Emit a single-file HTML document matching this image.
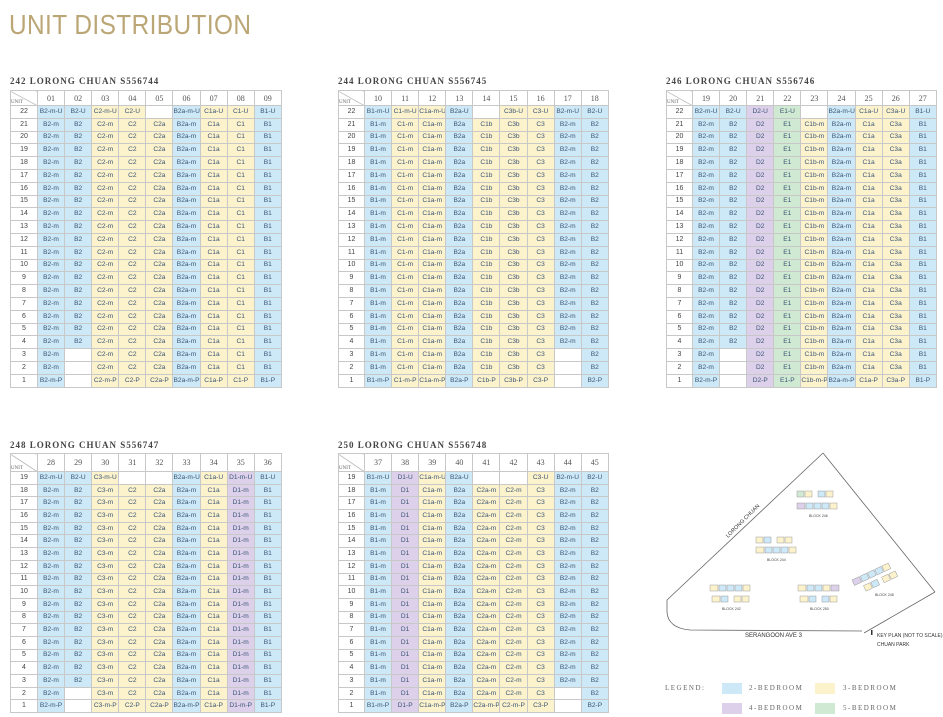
<!DOCTYPE html>
<html><head><meta charset="utf-8"><style>
body{margin:0;width:943px;height:717px;background:#fff;position:relative;overflow:hidden;font-family:"Liberation Sans",sans-serif}
.title{position:absolute;left:9px;top:9px;font:28px "Liberation Sans",sans-serif;color:#bba675;letter-spacing:0.5px;transform:scaleX(0.87);transform-origin:0 0;white-space:nowrap}
.h{position:absolute;font:bold 9px "Liberation Serif",serif;color:#444;letter-spacing:1px}
table{position:absolute;border-collapse:collapse;table-layout:fixed;font:6.6px "Liberation Sans",sans-serif;color:#3b5676}
td{border:1px solid #c8c8c8;text-align:center;padding:0;white-space:nowrap;overflow:hidden;line-height:10px}
tr.hd td{font:8px "Liberation Serif",serif;color:#555}
tr td:first-child{color:#444;font-size:7px}
td.u{background:linear-gradient(to bottom left,transparent 49%,#aaa 50%,transparent 54%);font-size:5px!important;text-align:left;vertical-align:bottom;color:#666!important}
.b{background:#cde8f6}.y{background:#fcf2cc}.p{background:#ddd0ea}.g{background:#d0e9d2}
.t22 tr{height:12.8px}.t22 tr.hd{height:15px}
.t19 tr{height:12.7px}.t19 tr.hd{height:18px}
.lg{position:absolute;font:7px "Liberation Serif",serif;color:#666;letter-spacing:1.5px}
.sw{position:absolute;width:20px;height:11px}
</style></head><body>
<div class="title">UNIT DISTRIBUTION</div>

<div class="h" style="left:10px;top:76px">242 LORONG CHUAN S556744</div>
<table class="t22" style="left:10px;top:90px;width:271px">
<colgroup><col style="width:27px"><col span="9" style="width:27.1px"></colgroup>
<tr class="hd"><td class="u">UNIT<td>01<td>02<td>03<td>04<td>05<td>06<td>07<td>08<td>09
<tr><td>22<td class=b>B2-m-U<td class=b>B2-U<td class=y>C2-m-U<td class=y>C2-U<td><td class=b>B2a-m-U<td class=y>C1a-U<td class=y>C1-U<td class=b>B1-U
<tr><td>21<td class=b>B2-m<td class=b>B2<td class=y>C2-m<td class=y>C2<td class=y>C2a<td class=b>B2a-m<td class=y>C1a<td class=y>C1<td class=b>B1
<tr><td>20<td class=b>B2-m<td class=b>B2<td class=y>C2-m<td class=y>C2<td class=y>C2a<td class=b>B2a-m<td class=y>C1a<td class=y>C1<td class=b>B1
<tr><td>19<td class=b>B2-m<td class=b>B2<td class=y>C2-m<td class=y>C2<td class=y>C2a<td class=b>B2a-m<td class=y>C1a<td class=y>C1<td class=b>B1
<tr><td>18<td class=b>B2-m<td class=b>B2<td class=y>C2-m<td class=y>C2<td class=y>C2a<td class=b>B2a-m<td class=y>C1a<td class=y>C1<td class=b>B1
<tr><td>17<td class=b>B2-m<td class=b>B2<td class=y>C2-m<td class=y>C2<td class=y>C2a<td class=b>B2a-m<td class=y>C1a<td class=y>C1<td class=b>B1
<tr><td>16<td class=b>B2-m<td class=b>B2<td class=y>C2-m<td class=y>C2<td class=y>C2a<td class=b>B2a-m<td class=y>C1a<td class=y>C1<td class=b>B1
<tr><td>15<td class=b>B2-m<td class=b>B2<td class=y>C2-m<td class=y>C2<td class=y>C2a<td class=b>B2a-m<td class=y>C1a<td class=y>C1<td class=b>B1
<tr><td>14<td class=b>B2-m<td class=b>B2<td class=y>C2-m<td class=y>C2<td class=y>C2a<td class=b>B2a-m<td class=y>C1a<td class=y>C1<td class=b>B1
<tr><td>13<td class=b>B2-m<td class=b>B2<td class=y>C2-m<td class=y>C2<td class=y>C2a<td class=b>B2a-m<td class=y>C1a<td class=y>C1<td class=b>B1
<tr><td>12<td class=b>B2-m<td class=b>B2<td class=y>C2-m<td class=y>C2<td class=y>C2a<td class=b>B2a-m<td class=y>C1a<td class=y>C1<td class=b>B1
<tr><td>11<td class=b>B2-m<td class=b>B2<td class=y>C2-m<td class=y>C2<td class=y>C2a<td class=b>B2a-m<td class=y>C1a<td class=y>C1<td class=b>B1
<tr><td>10<td class=b>B2-m<td class=b>B2<td class=y>C2-m<td class=y>C2<td class=y>C2a<td class=b>B2a-m<td class=y>C1a<td class=y>C1<td class=b>B1
<tr><td>9<td class=b>B2-m<td class=b>B2<td class=y>C2-m<td class=y>C2<td class=y>C2a<td class=b>B2a-m<td class=y>C1a<td class=y>C1<td class=b>B1
<tr><td>8<td class=b>B2-m<td class=b>B2<td class=y>C2-m<td class=y>C2<td class=y>C2a<td class=b>B2a-m<td class=y>C1a<td class=y>C1<td class=b>B1
<tr><td>7<td class=b>B2-m<td class=b>B2<td class=y>C2-m<td class=y>C2<td class=y>C2a<td class=b>B2a-m<td class=y>C1a<td class=y>C1<td class=b>B1
<tr><td>6<td class=b>B2-m<td class=b>B2<td class=y>C2-m<td class=y>C2<td class=y>C2a<td class=b>B2a-m<td class=y>C1a<td class=y>C1<td class=b>B1
<tr><td>5<td class=b>B2-m<td class=b>B2<td class=y>C2-m<td class=y>C2<td class=y>C2a<td class=b>B2a-m<td class=y>C1a<td class=y>C1<td class=b>B1
<tr><td>4<td class=b>B2-m<td class=b>B2<td class=y>C2-m<td class=y>C2<td class=y>C2a<td class=b>B2a-m<td class=y>C1a<td class=y>C1<td class=b>B1
<tr><td>3<td class=b>B2-m<td><td class=y>C2-m<td class=y>C2<td class=y>C2a<td class=b>B2a-m<td class=y>C1a<td class=y>C1<td class=b>B1
<tr><td>2<td class=b>B2-m<td><td class=y>C2-m<td class=y>C2<td class=y>C2a<td class=b>B2a-m<td class=y>C1a<td class=y>C1<td class=b>B1
<tr><td>1<td class=b>B2-m-P<td><td class=y>C2-m-P<td class=y>C2-P<td class=y>C2a-P<td class=b>B2a-m-P<td class=y>C1a-P<td class=y>C1-P<td class=b>B1-P
</table>

<div class="h" style="left:338px;top:76px">244 LORONG CHUAN S556745</div>
<table class="t22" style="left:338px;top:90px;width:270px">
<colgroup><col style="width:26px"><col span="9" style="width:27.1px"></colgroup>
<tr class="hd"><td class="u">UNIT<td>10<td>11<td>12<td>13<td>14<td>15<td>16<td>17<td>18
<tr><td>22<td class=b>B1-m-U<td class=y>C1-m-U<td class=y>C1a-m-U<td class=b>B2a-U<td><td class=y>C3b-U<td class=y>C3-U<td class=b>B2-m-U<td class=b>B2-U
<tr><td>21<td class=b>B1-m<td class=y>C1-m<td class=y>C1a-m<td class=b>B2a<td class=y>C1b<td class=y>C3b<td class=y>C3<td class=b>B2-m<td class=b>B2
<tr><td>20<td class=b>B1-m<td class=y>C1-m<td class=y>C1a-m<td class=b>B2a<td class=y>C1b<td class=y>C3b<td class=y>C3<td class=b>B2-m<td class=b>B2
<tr><td>19<td class=b>B1-m<td class=y>C1-m<td class=y>C1a-m<td class=b>B2a<td class=y>C1b<td class=y>C3b<td class=y>C3<td class=b>B2-m<td class=b>B2
<tr><td>18<td class=b>B1-m<td class=y>C1-m<td class=y>C1a-m<td class=b>B2a<td class=y>C1b<td class=y>C3b<td class=y>C3<td class=b>B2-m<td class=b>B2
<tr><td>17<td class=b>B1-m<td class=y>C1-m<td class=y>C1a-m<td class=b>B2a<td class=y>C1b<td class=y>C3b<td class=y>C3<td class=b>B2-m<td class=b>B2
<tr><td>16<td class=b>B1-m<td class=y>C1-m<td class=y>C1a-m<td class=b>B2a<td class=y>C1b<td class=y>C3b<td class=y>C3<td class=b>B2-m<td class=b>B2
<tr><td>15<td class=b>B1-m<td class=y>C1-m<td class=y>C1a-m<td class=b>B2a<td class=y>C1b<td class=y>C3b<td class=y>C3<td class=b>B2-m<td class=b>B2
<tr><td>14<td class=b>B1-m<td class=y>C1-m<td class=y>C1a-m<td class=b>B2a<td class=y>C1b<td class=y>C3b<td class=y>C3<td class=b>B2-m<td class=b>B2
<tr><td>13<td class=b>B1-m<td class=y>C1-m<td class=y>C1a-m<td class=b>B2a<td class=y>C1b<td class=y>C3b<td class=y>C3<td class=b>B2-m<td class=b>B2
<tr><td>12<td class=b>B1-m<td class=y>C1-m<td class=y>C1a-m<td class=b>B2a<td class=y>C1b<td class=y>C3b<td class=y>C3<td class=b>B2-m<td class=b>B2
<tr><td>11<td class=b>B1-m<td class=y>C1-m<td class=y>C1a-m<td class=b>B2a<td class=y>C1b<td class=y>C3b<td class=y>C3<td class=b>B2-m<td class=b>B2
<tr><td>10<td class=b>B1-m<td class=y>C1-m<td class=y>C1a-m<td class=b>B2a<td class=y>C1b<td class=y>C3b<td class=y>C3<td class=b>B2-m<td class=b>B2
<tr><td>9<td class=b>B1-m<td class=y>C1-m<td class=y>C1a-m<td class=b>B2a<td class=y>C1b<td class=y>C3b<td class=y>C3<td class=b>B2-m<td class=b>B2
<tr><td>8<td class=b>B1-m<td class=y>C1-m<td class=y>C1a-m<td class=b>B2a<td class=y>C1b<td class=y>C3b<td class=y>C3<td class=b>B2-m<td class=b>B2
<tr><td>7<td class=b>B1-m<td class=y>C1-m<td class=y>C1a-m<td class=b>B2a<td class=y>C1b<td class=y>C3b<td class=y>C3<td class=b>B2-m<td class=b>B2
<tr><td>6<td class=b>B1-m<td class=y>C1-m<td class=y>C1a-m<td class=b>B2a<td class=y>C1b<td class=y>C3b<td class=y>C3<td class=b>B2-m<td class=b>B2
<tr><td>5<td class=b>B1-m<td class=y>C1-m<td class=y>C1a-m<td class=b>B2a<td class=y>C1b<td class=y>C3b<td class=y>C3<td class=b>B2-m<td class=b>B2
<tr><td>4<td class=b>B1-m<td class=y>C1-m<td class=y>C1a-m<td class=b>B2a<td class=y>C1b<td class=y>C3b<td class=y>C3<td class=b>B2-m<td class=b>B2
<tr><td>3<td class=b>B1-m<td class=y>C1-m<td class=y>C1a-m<td class=b>B2a<td class=y>C1b<td class=y>C3b<td class=y>C3<td><td class=b>B2
<tr><td>2<td class=b>B1-m<td class=y>C1-m<td class=y>C1a-m<td class=b>B2a<td class=y>C1b<td class=y>C3b<td class=y>C3<td><td class=b>B2
<tr><td>1<td class=b>B1-m-P<td class=y>C1-m-P<td class=y>C1a-m-P<td class=b>B2a-P<td class=y>C1b-P<td class=y>C3b-P<td class=y>C3-P<td><td class=b>B2-P
</table>

<div class="h" style="left:666px;top:76px">246 LORONG CHUAN S556746</div>
<table class="t22" style="left:666px;top:90px;width:270px">
<colgroup><col style="width:26px"><col span="9" style="width:27.1px"></colgroup>
<tr class="hd"><td class="u">UNIT<td>19<td>20<td>21<td>22<td>23<td>24<td>25<td>26<td>27
<tr><td>22<td class=b>B2-m-U<td class=b>B2-U<td class=p>D2-U<td class=g>E1-U<td><td class=b>B2a-m-U<td class=y>C1a-U<td class=y>C3a-U<td class=b>B1-U
<tr><td>21<td class=b>B2-m<td class=b>B2<td class=p>D2<td class=g>E1<td class=y>C1b-m<td class=b>B2a-m<td class=y>C1a<td class=y>C3a<td class=b>B1
<tr><td>20<td class=b>B2-m<td class=b>B2<td class=p>D2<td class=g>E1<td class=y>C1b-m<td class=b>B2a-m<td class=y>C1a<td class=y>C3a<td class=b>B1
<tr><td>19<td class=b>B2-m<td class=b>B2<td class=p>D2<td class=g>E1<td class=y>C1b-m<td class=b>B2a-m<td class=y>C1a<td class=y>C3a<td class=b>B1
<tr><td>18<td class=b>B2-m<td class=b>B2<td class=p>D2<td class=g>E1<td class=y>C1b-m<td class=b>B2a-m<td class=y>C1a<td class=y>C3a<td class=b>B1
<tr><td>17<td class=b>B2-m<td class=b>B2<td class=p>D2<td class=g>E1<td class=y>C1b-m<td class=b>B2a-m<td class=y>C1a<td class=y>C3a<td class=b>B1
<tr><td>16<td class=b>B2-m<td class=b>B2<td class=p>D2<td class=g>E1<td class=y>C1b-m<td class=b>B2a-m<td class=y>C1a<td class=y>C3a<td class=b>B1
<tr><td>15<td class=b>B2-m<td class=b>B2<td class=p>D2<td class=g>E1<td class=y>C1b-m<td class=b>B2a-m<td class=y>C1a<td class=y>C3a<td class=b>B1
<tr><td>14<td class=b>B2-m<td class=b>B2<td class=p>D2<td class=g>E1<td class=y>C1b-m<td class=b>B2a-m<td class=y>C1a<td class=y>C3a<td class=b>B1
<tr><td>13<td class=b>B2-m<td class=b>B2<td class=p>D2<td class=g>E1<td class=y>C1b-m<td class=b>B2a-m<td class=y>C1a<td class=y>C3a<td class=b>B1
<tr><td>12<td class=b>B2-m<td class=b>B2<td class=p>D2<td class=g>E1<td class=y>C1b-m<td class=b>B2a-m<td class=y>C1a<td class=y>C3a<td class=b>B1
<tr><td>11<td class=b>B2-m<td class=b>B2<td class=p>D2<td class=g>E1<td class=y>C1b-m<td class=b>B2a-m<td class=y>C1a<td class=y>C3a<td class=b>B1
<tr><td>10<td class=b>B2-m<td class=b>B2<td class=p>D2<td class=g>E1<td class=y>C1b-m<td class=b>B2a-m<td class=y>C1a<td class=y>C3a<td class=b>B1
<tr><td>9<td class=b>B2-m<td class=b>B2<td class=p>D2<td class=g>E1<td class=y>C1b-m<td class=b>B2a-m<td class=y>C1a<td class=y>C3a<td class=b>B1
<tr><td>8<td class=b>B2-m<td class=b>B2<td class=p>D2<td class=g>E1<td class=y>C1b-m<td class=b>B2a-m<td class=y>C1a<td class=y>C3a<td class=b>B1
<tr><td>7<td class=b>B2-m<td class=b>B2<td class=p>D2<td class=g>E1<td class=y>C1b-m<td class=b>B2a-m<td class=y>C1a<td class=y>C3a<td class=b>B1
<tr><td>6<td class=b>B2-m<td class=b>B2<td class=p>D2<td class=g>E1<td class=y>C1b-m<td class=b>B2a-m<td class=y>C1a<td class=y>C3a<td class=b>B1
<tr><td>5<td class=b>B2-m<td class=b>B2<td class=p>D2<td class=g>E1<td class=y>C1b-m<td class=b>B2a-m<td class=y>C1a<td class=y>C3a<td class=b>B1
<tr><td>4<td class=b>B2-m<td class=b>B2<td class=p>D2<td class=g>E1<td class=y>C1b-m<td class=b>B2a-m<td class=y>C1a<td class=y>C3a<td class=b>B1
<tr><td>3<td class=b>B2-m<td><td class=p>D2<td class=g>E1<td class=y>C1b-m<td class=b>B2a-m<td class=y>C1a<td class=y>C3a<td class=b>B1
<tr><td>2<td class=b>B2-m<td><td class=p>D2<td class=g>E1<td class=y>C1b-m<td class=b>B2a-m<td class=y>C1a<td class=y>C3a<td class=b>B1
<tr><td>1<td class=b>B2-m-P<td><td class=p>D2-P<td class=g>E1-P<td class=y>C1b-m-P<td class=b>B2a-m-P<td class=y>C1a-P<td class=y>C3a-P<td class=b>B1-P
</table>

<div class="h" style="left:10px;top:440px">248 LORONG CHUAN S556747</div>
<table class="t19" style="left:10px;top:453px;width:271px">
<colgroup><col style="width:27px"><col span="9" style="width:27.1px"></colgroup>
<tr class="hd"><td class="u">UNIT<td>28<td>29<td>30<td>31<td>32<td>33<td>34<td>35<td>36
<tr><td>19<td class=b>B2-m-U<td class=b>B2-U<td class=y>C3-m-U<td><td><td class=b>B2a-m-U<td class=y>C1a-U<td class=p>D1-m-U<td class=b>B1-U
<tr><td>18<td class=b>B2-m<td class=b>B2<td class=y>C3-m<td class=y>C2<td class=y>C2a<td class=b>B2a-m<td class=y>C1a<td class=p>D1-m<td class=b>B1
<tr><td>17<td class=b>B2-m<td class=b>B2<td class=y>C3-m<td class=y>C2<td class=y>C2a<td class=b>B2a-m<td class=y>C1a<td class=p>D1-m<td class=b>B1
<tr><td>16<td class=b>B2-m<td class=b>B2<td class=y>C3-m<td class=y>C2<td class=y>C2a<td class=b>B2a-m<td class=y>C1a<td class=p>D1-m<td class=b>B1
<tr><td>15<td class=b>B2-m<td class=b>B2<td class=y>C3-m<td class=y>C2<td class=y>C2a<td class=b>B2a-m<td class=y>C1a<td class=p>D1-m<td class=b>B1
<tr><td>14<td class=b>B2-m<td class=b>B2<td class=y>C3-m<td class=y>C2<td class=y>C2a<td class=b>B2a-m<td class=y>C1a<td class=p>D1-m<td class=b>B1
<tr><td>13<td class=b>B2-m<td class=b>B2<td class=y>C3-m<td class=y>C2<td class=y>C2a<td class=b>B2a-m<td class=y>C1a<td class=p>D1-m<td class=b>B1
<tr><td>12<td class=b>B2-m<td class=b>B2<td class=y>C3-m<td class=y>C2<td class=y>C2a<td class=b>B2a-m<td class=y>C1a<td class=p>D1-m<td class=b>B1
<tr><td>11<td class=b>B2-m<td class=b>B2<td class=y>C3-m<td class=y>C2<td class=y>C2a<td class=b>B2a-m<td class=y>C1a<td class=p>D1-m<td class=b>B1
<tr><td>10<td class=b>B2-m<td class=b>B2<td class=y>C3-m<td class=y>C2<td class=y>C2a<td class=b>B2a-m<td class=y>C1a<td class=p>D1-m<td class=b>B1
<tr><td>9<td class=b>B2-m<td class=b>B2<td class=y>C3-m<td class=y>C2<td class=y>C2a<td class=b>B2a-m<td class=y>C1a<td class=p>D1-m<td class=b>B1
<tr><td>8<td class=b>B2-m<td class=b>B2<td class=y>C3-m<td class=y>C2<td class=y>C2a<td class=b>B2a-m<td class=y>C1a<td class=p>D1-m<td class=b>B1
<tr><td>7<td class=b>B2-m<td class=b>B2<td class=y>C3-m<td class=y>C2<td class=y>C2a<td class=b>B2a-m<td class=y>C1a<td class=p>D1-m<td class=b>B1
<tr><td>6<td class=b>B2-m<td class=b>B2<td class=y>C3-m<td class=y>C2<td class=y>C2a<td class=b>B2a-m<td class=y>C1a<td class=p>D1-m<td class=b>B1
<tr><td>5<td class=b>B2-m<td class=b>B2<td class=y>C3-m<td class=y>C2<td class=y>C2a<td class=b>B2a-m<td class=y>C1a<td class=p>D1-m<td class=b>B1
<tr><td>4<td class=b>B2-m<td class=b>B2<td class=y>C3-m<td class=y>C2<td class=y>C2a<td class=b>B2a-m<td class=y>C1a<td class=p>D1-m<td class=b>B1
<tr><td>3<td class=b>B2-m<td class=b>B2<td class=y>C3-m<td class=y>C2<td class=y>C2a<td class=b>B2a-m<td class=y>C1a<td class=p>D1-m<td class=b>B1
<tr><td>2<td class=b>B2-m<td><td class=y>C3-m<td class=y>C2<td class=y>C2a<td class=b>B2a-m<td class=y>C1a<td class=p>D1-m<td class=b>B1
<tr><td>1<td class=b>B2-m-P<td><td class=y>C3-m-P<td class=y>C2-P<td class=y>C2a-P<td class=b>B2a-m-P<td class=y>C1a-P<td class=p>D1-m-P<td class=b>B1-P
</table>

<div class="h" style="left:338px;top:440px">250 LORONG CHUAN S556748</div>
<table class="t19" style="left:338px;top:453px;width:270px">
<colgroup><col style="width:26px"><col span="9" style="width:27.1px"></colgroup>
<tr class="hd"><td class="u">UNIT<td>37<td>38<td>39<td>40<td>41<td>42<td>43<td>44<td>45
<tr><td>19<td class=b>B1-m-U<td class=p>D1-U<td class=y>C1a-m-U<td class=b>B2a-U<td><td><td class=y>C3-U<td class=b>B2-m-U<td class=b>B2-U
<tr><td>18<td class=b>B1-m<td class=p>D1<td class=y>C1a-m<td class=b>B2a<td class=y>C2a-m<td class=y>C2-m<td class=y>C3<td class=b>B2-m<td class=b>B2
<tr><td>17<td class=b>B1-m<td class=p>D1<td class=y>C1a-m<td class=b>B2a<td class=y>C2a-m<td class=y>C2-m<td class=y>C3<td class=b>B2-m<td class=b>B2
<tr><td>16<td class=b>B1-m<td class=p>D1<td class=y>C1a-m<td class=b>B2a<td class=y>C2a-m<td class=y>C2-m<td class=y>C3<td class=b>B2-m<td class=b>B2
<tr><td>15<td class=b>B1-m<td class=p>D1<td class=y>C1a-m<td class=b>B2a<td class=y>C2a-m<td class=y>C2-m<td class=y>C3<td class=b>B2-m<td class=b>B2
<tr><td>14<td class=b>B1-m<td class=p>D1<td class=y>C1a-m<td class=b>B2a<td class=y>C2a-m<td class=y>C2-m<td class=y>C3<td class=b>B2-m<td class=b>B2
<tr><td>13<td class=b>B1-m<td class=p>D1<td class=y>C1a-m<td class=b>B2a<td class=y>C2a-m<td class=y>C2-m<td class=y>C3<td class=b>B2-m<td class=b>B2
<tr><td>12<td class=b>B1-m<td class=p>D1<td class=y>C1a-m<td class=b>B2a<td class=y>C2a-m<td class=y>C2-m<td class=y>C3<td class=b>B2-m<td class=b>B2
<tr><td>11<td class=b>B1-m<td class=p>D1<td class=y>C1a-m<td class=b>B2a<td class=y>C2a-m<td class=y>C2-m<td class=y>C3<td class=b>B2-m<td class=b>B2
<tr><td>10<td class=b>B1-m<td class=p>D1<td class=y>C1a-m<td class=b>B2a<td class=y>C2a-m<td class=y>C2-m<td class=y>C3<td class=b>B2-m<td class=b>B2
<tr><td>9<td class=b>B1-m<td class=p>D1<td class=y>C1a-m<td class=b>B2a<td class=y>C2a-m<td class=y>C2-m<td class=y>C3<td class=b>B2-m<td class=b>B2
<tr><td>8<td class=b>B1-m<td class=p>D1<td class=y>C1a-m<td class=b>B2a<td class=y>C2a-m<td class=y>C2-m<td class=y>C3<td class=b>B2-m<td class=b>B2
<tr><td>7<td class=b>B1-m<td class=p>D1<td class=y>C1a-m<td class=b>B2a<td class=y>C2a-m<td class=y>C2-m<td class=y>C3<td class=b>B2-m<td class=b>B2
<tr><td>6<td class=b>B1-m<td class=p>D1<td class=y>C1a-m<td class=b>B2a<td class=y>C2a-m<td class=y>C2-m<td class=y>C3<td class=b>B2-m<td class=b>B2
<tr><td>5<td class=b>B1-m<td class=p>D1<td class=y>C1a-m<td class=b>B2a<td class=y>C2a-m<td class=y>C2-m<td class=y>C3<td class=b>B2-m<td class=b>B2
<tr><td>4<td class=b>B1-m<td class=p>D1<td class=y>C1a-m<td class=b>B2a<td class=y>C2a-m<td class=y>C2-m<td class=y>C3<td class=b>B2-m<td class=b>B2
<tr><td>3<td class=b>B1-m<td class=p>D1<td class=y>C1a-m<td class=b>B2a<td class=y>C2a-m<td class=y>C2-m<td class=y>C3<td class=b>B2-m<td class=b>B2
<tr><td>2<td class=b>B1-m<td class=p>D1<td class=y>C1a-m<td class=b>B2a<td class=y>C2a-m<td class=y>C2-m<td class=y>C3<td><td class=b>B2
<tr><td>1<td class=b>B1-m-P<td class=p>D1-P<td class=y>C1a-m-P<td class=b>B2a-P<td class=y>C2a-m-P<td class=y>C2-m-P<td class=y>C3-P<td><td class=b>B2-P
</table>

<svg style="position:absolute;left:0;top:0" width="943" height="717" font-family="Liberation Sans, sans-serif">
<path d="M823,453 L935,592 M864,633 L935,592 M823,453 L667,600 L667,612 Q668,628 690,630 L862,631" fill="none" stroke="#666" stroke-width="0.8"/>
<text x="0" y="0" font-size="5.5" fill="#333" transform="translate(728,538) rotate(-45)">LORONG CHUAN</text>
<text x="745" y="637" font-size="6" fill="#333">SERANGOON AVE 3</text>
<rect x="871" y="630" width="1.5" height="5" fill="#333"/>
<text x="877" y="637" font-size="5" fill="#333">KEY PLAN (NOT TO SCALE)</text>
<text x="877" y="646" font-size="5" fill="#333">CHUAN PARK</text>
<g stroke="#888" stroke-width="0.4">
<rect x="797" y="491" width="7" height="6" fill="#d0e9d2"/><rect x="805" y="491" width="7" height="6" fill="#fcf2cc"/><rect x="818" y="491" width="7" height="6" fill="#cde8f6"/><rect x="826" y="491" width="7" height="6" fill="#fcf2cc"/>
<rect x="797" y="503" width="8" height="6" fill="#ddd0ea"/><rect x="806" y="503" width="7" height="6" fill="#cde8f6"/><rect x="814" y="503" width="7" height="6" fill="#cde8f6"/><rect x="822" y="503" width="7" height="6" fill="#cde8f6"/><rect x="830" y="503" width="7" height="6" fill="#fcf2cc"/>
<rect x="756" y="537" width="7" height="6" fill="#fcf2cc"/><rect x="764" y="537" width="7" height="6" fill="#cde8f6"/><rect x="777" y="537" width="7" height="6" fill="#fcf2cc"/><rect x="785" y="537" width="7" height="6" fill="#fcf2cc"/>
<rect x="756" y="547" width="8" height="6" fill="#fcf2cc"/><rect x="765" y="547" width="7" height="6" fill="#cde8f6"/><rect x="773" y="547" width="7" height="6" fill="#cde8f6"/><rect x="781" y="547" width="7" height="6" fill="#cde8f6"/><rect x="789" y="547" width="7" height="6" fill="#fcf2cc"/>
<rect x="710" y="585" width="8" height="6" fill="#fcf2cc"/><rect x="719" y="585" width="7" height="6" fill="#cde8f6"/><rect x="727" y="585" width="7" height="6" fill="#cde8f6"/><rect x="735" y="585" width="7" height="6" fill="#cde8f6"/><rect x="743" y="585" width="7" height="6" fill="#fcf2cc"/>
<rect x="712" y="596" width="8" height="6" fill="#fcf2cc"/><rect x="721" y="596" width="7" height="6" fill="#cde8f6"/><rect x="734" y="596" width="7" height="6" fill="#fcf2cc"/><rect x="742" y="596" width="7" height="6" fill="#fcf2cc"/>
<rect x="798" y="585" width="8" height="6" fill="#fcf2cc"/><rect x="807" y="585" width="7" height="6" fill="#cde8f6"/><rect x="815" y="585" width="7" height="6" fill="#cde8f6"/><rect x="823" y="585" width="7" height="6" fill="#fcf2cc"/><rect x="831" y="585" width="8" height="6" fill="#ddd0ea"/>
<rect x="800" y="596" width="8" height="6" fill="#fcf2cc"/><rect x="809" y="596" width="7" height="6" fill="#cde8f6"/><rect x="822" y="596" width="7" height="6" fill="#cde8f6"/><rect x="830" y="596" width="7" height="6" fill="#fcf2cc"/>
<g transform="translate(852,580) rotate(-25)">
<rect x="0" y="0" width="8" height="6" fill="#ddd0ea"/><rect x="9" y="0" width="7" height="6" fill="#cde8f6"/><rect x="17" y="0" width="7" height="6" fill="#cde8f6"/><rect x="25" y="0" width="7" height="6" fill="#cde8f6"/><rect x="33" y="0" width="7" height="6" fill="#fcf2cc"/>
<rect x="8" y="10" width="7" height="6" fill="#fcf2cc"/><rect x="16" y="10" width="7" height="6" fill="#cde8f6"/><rect x="28" y="10" width="7" height="6" fill="#fcf2cc"/><rect x="36" y="10" width="7" height="6" fill="#fcf2cc"/>
</g></g>
<g font-size="3.5" fill="#444">
<text x="809" y="517">BLOCK 246</text><text x="767" y="561">BLOCK 244</text><text x="722" y="610">BLOCK 242</text><text x="810" y="610">BLOCK 250</text><text x="875" y="596">BLOCK 248</text>
</g>
</svg>

<div class="lg" style="left:665px;top:684px">LEGEND:</div>
<div class="sw b" style="left:722px;top:683px"></div><div class="lg" style="left:749px;top:684px">2-BEDROOM</div>
<div class="sw y" style="left:815px;top:683px"></div><div class="lg" style="left:843px;top:684px">3-BEDROOM</div>
<div class="sw p" style="left:722px;top:703px"></div><div class="lg" style="left:749px;top:704px">4-BEDROOM</div>
<div class="sw g" style="left:815px;top:703px"></div><div class="lg" style="left:843px;top:704px">5-BEDROOM</div>
</body></html>
